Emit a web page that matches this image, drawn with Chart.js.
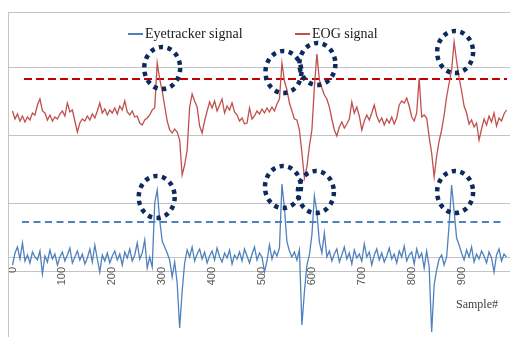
<!DOCTYPE html>
<html>
<head>
<meta charset="utf-8">
<script src="https://cdn.jsdelivr.net/npm/chart.js@4.4.1/dist/chart.umd.min.js"></script>
<style>
    body { margin: 0; background: #fff; }
    #wrap { position: relative; width: 510px; height: 337px; }
    .legend-line { position: absolute; height: 2px; }
    .legend-text { position: absolute; font: 14px 'Liberation Serif', 'Times New Roman', serif; line-height: 14px; color: #1a1a1a; white-space: nowrap; }
    #axis-title { position: absolute; left: 456px; top: 298px; font: 12px 'Liberation Serif', 'Times New Roman', serif; line-height: 12px; color: #404040; }
</style>
</head>
<body>
<div id="wrap">
    <canvas id="signalChart" width="510" height="337"></canvas>
    <div class="legend-line" style="left:128px;top:33px;width:15px;background:#4f81bd;"></div>
    <div class="legend-text" style="left:145px;top:27px;">Eyetracker signal</div>
    <div class="legend-line" style="left:295px;top:33px;width:15px;background:#c0504d;"></div>
    <div class="legend-text" style="left:312px;top:27px;">EOG signal</div>
    <div id="axis-title">Sample#</div>
</div>
<script>
// one value every 5 samples
const sampleStep = 5;

const eogSignal = [
    160, 152, 157, 150, 155, 149, 154, 151, 158, 156,
    166, 172, 160, 158, 151, 156, 150, 154, 152, 157,
    160, 155, 168, 159, 161, 150, 139, 148, 152, 150,
    155, 151, 157, 153, 160, 168, 158, 162, 156, 161,
    158, 163, 157, 165, 161, 170, 159, 156, 160, 154,
    155, 148, 146, 151, 153, 156, 161, 163, 208, 192,
    180, 165, 150, 141, 138, 142, 139, 131, 96, 106,
    121, 164, 177, 170, 164, 145, 138, 150, 160, 169,
    163, 170, 160, 166, 172, 158, 165, 161, 168, 159,
    156, 150, 153, 147, 148, 163, 152, 155, 160, 157,
    162, 158, 163, 159, 164, 160, 167, 172, 208, 190,
    181, 168, 160, 152, 151, 141, 118, 93, 104, 125,
    141, 184, 217, 191, 183, 176, 172, 164, 152, 141,
    135, 144, 149, 143, 147, 152, 169, 158, 164, 155,
    141, 150, 156, 151, 158, 166, 155, 149, 153, 146,
    152, 148, 154, 147, 153, 166, 170, 168, 173, 165,
    154, 150, 158, 193, 154, 156, 153, 134, 118, 94,
    115, 130, 141, 156, 174, 188, 201, 229, 210, 193,
    180, 165, 158, 147, 151, 144, 148, 131, 142, 152,
    146, 155, 149, 158, 145, 153, 150, 157, 161
];

const eyeSignal = [
    6, 18, 24, 12, 28, 10, 16, 8, 19, 14,
    11, 20, -3, 15, 9, 21, 12, 17, 6, 14,
    19, 10, 16, 23, 8, 14, 20, 11, 17, 7,
    13, 22, 9, 26, 12, -1, 16, 10, 18, 8,
    15, 20, 11, 17, 6, 19, 13, 22, 10, 16,
    28, 12, 18, 31, 3, 14, 4, 68, 81, 51,
    30, 24, 18, 11, -6, 9, -12, -57, -20, 8,
    21, 14, 24, 10, 17, 22, 12, 19, 8, 15,
    20, 11, 23, 14, 9, 18, 13, 21, 7, 16,
    12, 19, 10, 22, 15, 8, 17, 24, 11, 18,
    14, -1, 10, 26, 12, 20, 15, 23, 87, 63,
    29, 20, 14, 19, 11, 21, -54, -21, 6, 16,
    36, 75, 59, 29, 18, 38, 14, 20, 10, 17,
    22, 9, 16, 24, 12, 18, 7, 21, 13, 17,
    10, 27, 14, 19, 6, 16, 22, 11, 18, 9,
    15, 23, 12, 17, 8, 20, 14, 25, 10, 16,
    19, 7, 22, 13, 18, 3, 20, 4, -61, -14,
    1, 12, 16, 6, 14, 46, 86, 60, 33, 26,
    18, 11, 21, 14, 24, 9, 17, 12, 20, 15,
    8, 19, 13, -1, 16, 22, 10, 17, 14
];

// threshold lines
const eogThreshold = 192;
const eogThresholdRange = [23, 991];
const eyeThreshold = 49;
const eyeThresholdRange = [19, 987];

// marked peaks (sample, value)
const eogPeakX = [300, 543, 611, 887];
const eogPeakY = [203, 199, 207, 219];
const eyePeakX = [289, 542, 608, 887];
const eyePeakY = [74, 84, 79, 79];

const xTicks = [0, 100, 200, 300, 400, 500, 600, 700, 800, 900];
const yGrid = [0, 14, 68, 136, 203, 259];

function toPoints(values) {
    return values.map((v, i) => ({ x: i * sampleStep, y: v }));
}

// dotted ellipses round the marked peaks
const peakCircles = {
    id: 'peakCircles',
    afterDatasetsDraw(chart) {
        const ctx = chart.ctx;
        const xs = chart.scales.x;
        const ys = chart.scales.y;
        ctx.save();
        ctx.strokeStyle = '#0d2a5c';
        ctx.lineWidth = 4.5;
        ctx.setLineDash([4.3, 4.5]);
        const all = [[eogPeakX, eogPeakY], [eyePeakX, eyePeakY]];
        all.forEach(([px, py]) => {
            px.forEach((x, i) => {
                ctx.beginPath();
                ctx.ellipse(xs.getPixelForValue(x), ys.getPixelForValue(py[i]), 18, 21, 0, 0, Math.PI * 2);
                ctx.stroke();
            });
        });
        ctx.restore();
    }
};

new Chart(document.getElementById('signalChart'), {
    type: 'line',
    data: {
        datasets: [
            {
                label: 'Eyetracker signal',
                data: toPoints(eyeSignal),
                borderColor: '#4f81bd',
                borderWidth: 1.3,
                pointRadius: 0,
                tension: 0
            },
            {
                label: 'EOG signal',
                data: toPoints(eogSignal),
                borderColor: '#c0504d',
                borderWidth: 1.3,
                pointRadius: 0,
                tension: 0
            },
            {
                label: 'EOG threshold',
                data: eogThresholdRange.map(x => ({ x: x, y: eogThreshold })),
                borderColor: '#c00000',
                borderWidth: 2,
                borderDash: [8, 4],
                pointRadius: 0
            },
            {
                label: 'Eyetracker threshold',
                data: eyeThresholdRange.map(x => ({ x: x, y: eyeThreshold })),
                borderColor: '#4f81bd',
                borderWidth: 2,
                borderDash: [7, 4.5],
                pointRadius: 0
            }
        ]
    },
    options: {
        responsive: false,
        animation: false,
        layout: { padding: { left: 8, top: 12, right: 0, bottom: 0 } },
        plugins: {
            legend: { display: false },
            tooltip: { enabled: false }
        },
        scales: {
            x: {
                type: 'linear',
                min: -9,
                max: 997,
                position: { y: 0 },
                afterBuildTicks: scale => { scale.ticks = xTicks.map(v => ({ value: v })); },
                grid: { display: false, drawTicks: false },
                border: { display: false },
                ticks: {
                    autoSkip: false,
                    minRotation: 90,
                    maxRotation: 90,
                    padding: -4,
                    color: '#595959',
                    font: { family: "'Liberation Sans', Arial, sans-serif", size: 11 }
                }
            },
            y: {
                min: -66,
                max: 259,
                afterBuildTicks: scale => { scale.ticks = yGrid.map(v => ({ value: v })); },
                grid: { color: '#c4c4c4', drawTicks: false },
                border: { display: true, color: '#c4c4c4' },
                ticks: { display: false }
            }
        }
    },
    plugins: [peakCircles]
});
</script>
</body>
</html>
